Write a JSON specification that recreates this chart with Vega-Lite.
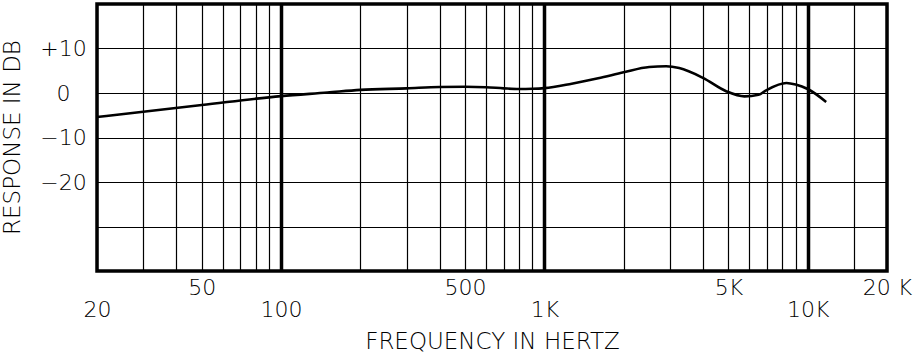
{
  "$schema": "https://vega.github.io/schema/vega-lite/v6.json",
  "autosize": "none",
  "padding": {"left": 97, "top": 4, "right": 26, "bottom": 83},
  "width": 790,
  "height": 267,
  "background": "white",
  "config": {
    "view": {"stroke": "black", "strokeWidth": 3.5},
    "font": "DejaVu Sans",
    "axis": {
      "gridColor": "black",
      "gridOpacity": 1,
      "ticks": false,
      "domain": false,
      "labelFont": "DejaVu Sans",
      "titleFont": "DejaVu Sans",
      "labelFontSize": 22,
      "titleFontSize": 23,
      "labelFontWeight": 200,
      "titleFontWeight": 200,
      "labelColor": "#000000",
      "titleColor": "#000000"
    }
  },
  "data": {
    "values": [
      {"freq": 20, "db": -5.4},
      {"freq": 50, "db": -2.7},
      {"freq": 100, "db": -0.7},
      {"freq": 150, "db": 0.1},
      {"freq": 200, "db": 0.7},
      {"freq": 300, "db": 1.05},
      {"freq": 400, "db": 1.35},
      {"freq": 500, "db": 1.4},
      {"freq": 600, "db": 1.3},
      {"freq": 700, "db": 1.05},
      {"freq": 800, "db": 0.9},
      {"freq": 900, "db": 0.95},
      {"freq": 1000, "db": 1.1},
      {"freq": 1270, "db": 2.1},
      {"freq": 1600, "db": 3.3},
      {"freq": 2000, "db": 4.65},
      {"freq": 2500, "db": 5.85},
      {"freq": 2900, "db": 6.0},
      {"freq": 3250, "db": 5.6},
      {"freq": 4000, "db": 3.4},
      {"freq": 4900, "db": 0.4},
      {"freq": 5750, "db": -0.75},
      {"freq": 6500, "db": -0.4},
      {"freq": 6950, "db": 0.6},
      {"freq": 8300, "db": 2.25},
      {"freq": 9000, "db": 1.9},
      {"freq": 10000, "db": 0.9},
      {"freq": 11750, "db": -2.0}
    ]
  },
  "mark": {"type": "line", "color": "black", "strokeWidth": 2.6, "interpolate": "monotone"},
  "encoding": {
    "x": {
      "field": "freq",
      "type": "quantitative",
      "scale": {"type": "log", "domain": [20, 20000], "nice": false},
      "axis": {
        "title": "FREQUENCY IN HERTZ",
        "values": [20, 30, 40, 50, 60, 70, 80, 90, 100, 200, 300, 400, 500, 600, 700, 800, 900, 1000, 2000, 3000, 4000, 5000, 6000, 7000, 8000, 9000, 10000, 15000, 20000],
        "labelExpr": "datum.value == 50 ? '50' : datum.value == 500 ? '500' : datum.value == 5000 ? '5K' : datum.value == 20000 ? '20 K' : datum.value == 20 ? ['', '20'] : datum.value == 100 ? ['', '100'] : datum.value == 1000 ? ['', '1K'] : datum.value == 10000 ? ['', '10K'] : ''",
        "labelOverlap": false,
        "labelFlush": false,
        "labelBaseline": "top",
        "labelLineHeight": 22,
        "labelPadding": 6,
        "gridWidth": {"condition": {"test": "datum.value == 100 || datum.value == 1000 || datum.value == 10000", "value": 3.5}, "value": 1.2},
        "titleX": 395,
        "titleY": 70,
        "titleBaseline": "middle",
        "titleAlign": "center"
      }
    },
    "y": {
      "field": "db",
      "type": "quantitative",
      "scale": {"domain": [-40, 20], "nice": false},
      "axis": {
        "title": "RESPONSE IN DB",
        "values": [-30, -20, -10, 0, 10],
        "labelExpr": "datum.value == -30 ? '' : datum.value > 0 ? '+' + datum.value : datum.value < 0 ? '\u2212' + abs(datum.value) : '0'",
        "labelAlign": "center",
        "labelPadding": 34,
        "gridWidth": 1.2,
        "titleAngle": -90,
        "titleX": -85,
        "titleY": 133,
        "titleAlign": "center",
        "titleBaseline": "middle"
      }
    }
  }
}
